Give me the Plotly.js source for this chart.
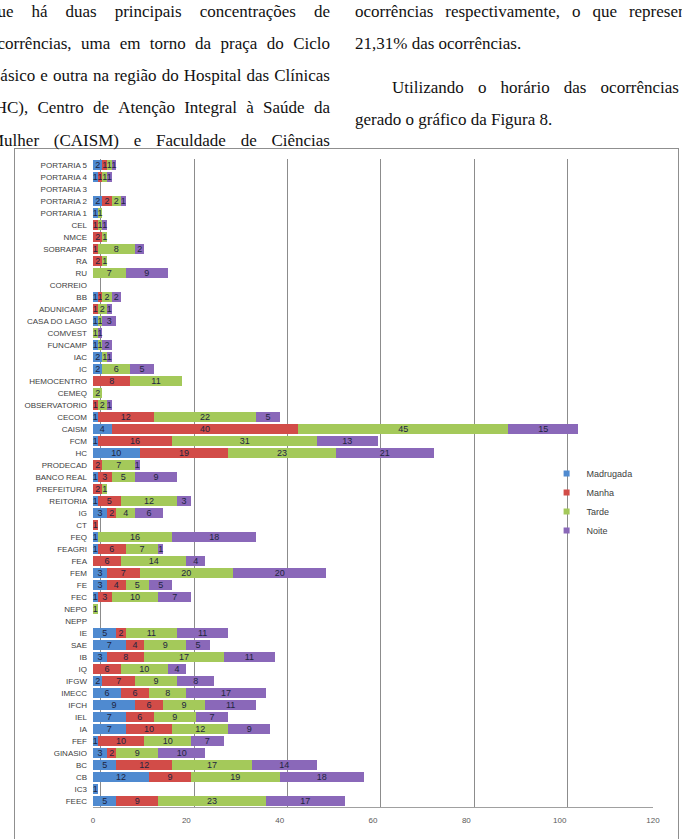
<!DOCTYPE html>
<html>
<head>
<meta charset="utf-8">
<script src="https://cdn.plot.ly/plotly-3.0.1.min.js"></script>
<style>
  html, body { margin:0; padding:0; background:#fff; }
  body { width:682px; height:839px; overflow:hidden; position:relative; font-family:"Liberation Serif","DejaVu Serif",serif; color:#111; }
  .ln { position:absolute; font-size:17px; line-height:20px; white-space:nowrap; }
  .just { display:flex; justify-content:space-between; }
  #frame { position:absolute; left:14px; top:148px; width:663px; height:720px; border:1px solid #8f8f8f; background:#fff; }
  #chart { position:absolute; left:0; top:0; width:682px; height:839px; }
</style>
</head>
<body>
<div id="frame"></div>
<div id="chart"></div>
<div id="text"></div>
<script>
// ---- page text ----
const leftLines = [
  "que há duas principais concentrações de",
  "ocorrências, uma em torno da praça do Ciclo",
  "Básico e outra na região do Hospital das Clínicas",
  "(HC), Centro de Atenção Integral à Saúde da",
  "Mulher (CAISM) e Faculdade de Ciências"
];
const leftTops = [2, 34, 66, 98, 131];
const rightLines = [
  {t:"ocorrências respectivamente, o que representam", top:2, left:355, width:357, just:true},
  {t:"21,31% das ocorrências.", top:34, left:355, just:false},
  {t:"Utilizando o horário das ocorrências foi", top:78, left:392, width:320, just:true},
  {t:"gerado o gráfico da Figura 8.", top:110, left:355, just:false}
];
const textHost = document.getElementById('text');
function addLine(str, left, top, width, just) {
  const d = document.createElement('div');
  d.className = 'ln' + (just ? ' just' : '');
  d.style.left = left + 'px';
  d.style.top = top + 'px';
  if (just) {
    d.style.width = width + 'px';
    str.split(' ').forEach(w => { const s = document.createElement('span'); s.textContent = w; d.appendChild(s); });
  } else {
    d.textContent = str;
  }
  textHost.appendChild(d);
}
leftLines.forEach((s, i) => addLine(s, -11, leftTops[i], 341, true));
rightLines.forEach(r => addLine(r.t, r.left, r.top, r.width, r.just));

// ---- chart data (top to bottom) ----
const categories = ["PORTARIA 5","PORTARIA 4","PORTARIA 3","PORTARIA 2","PORTARIA 1","CEL","NMCE","SOBRAPAR","RA","RU",
  "CORREIO","BB","ADUNICAMP","CASA DO LAGO","COMVEST","FUNCAMP","IAC","IC","HEMOCENTRO","CEMEQ",
  "OBSERVATORIO","CECOM","CAISM","FCM","HC","PRODECAD","BANCO REAL","PREFEITURA","REITORIA","IG",
  "CT","FEQ","FEAGRI","FEA","FEM","FE","FEC","NEPO","NEPP","IE",
  "SAE","IB","IQ","IFGW","IMECC","IFCH","IEL","IA","FEF","GINASIO",
  "BC","CB","IC3","FEEC"];
const madrugada = [2,1,0,2,1,0,0,0,0,0, 0,1,0,1,0,1,2,2,0,0, 0,1,4,1,10,0,1,0,1,3, 0,1,1,0,3,3,1,0,0,5, 7,3,0,2,6,9,7,7,1,3, 5,12,1,5];
const manha     = [1,1,0,2,0,1,2,1,2,0, 0,1,1,0,0,0,0,0,8,0, 1,12,40,16,19,2,3,2,5,2, 1,0,6,6,7,4,3,0,0,2, 4,8,6,7,6,6,6,10,10,2, 12,9,0,9];
const tarde     = [1,1,0,2,1,1,1,8,1,7, 0,2,2,1,1,1,1,6,11,2, 2,22,45,31,23,7,5,1,12,4, 0,16,7,14,20,5,10,1,0,11, 9,17,10,9,8,9,9,12,10,9, 17,19,0,23];
const noite     = [1,1,0,1,0,1,0,2,0,9, 0,2,1,3,1,2,1,5,0,0, 1,5,15,13,21,1,9,0,3,6, 0,18,1,4,20,5,7,0,0,11, 5,11,4,8,17,11,7,9,7,10, 14,18,0,17];
const seriesNames = ["Madrugada","Manha","Tarde","Noite"];
const seriesValues = [madrugada, manha, tarde, noite];
const seriesColors = ["#4f8ad0","#d24c48","#a4c95a","#8a68b9"];
const xTicks = [0,20,40,60,80,100,120];

const traces = [];
seriesValues.forEach((vals, i) => {
  traces.push({
    type:'bar', orientation:'h', name:seriesNames[i],
    y:categories, x:vals.map(v => v === 0 ? null : v),
    text:vals.map(v => v === 0 ? '' : String(v)),
    textposition:'inside', insidetextanchor:'middle', textangle:0, constraintext:'none',
    textfont:{family:'Liberation Sans, Arial, sans-serif', size:9, color:'#1e2540'},
    marker:{color:seriesColors[i], line:{width:0}},
    showlegend:false, hoverinfo:'skip', cliponaxis:false
  });
});
seriesNames.forEach((n, i) => {
  traces.push({
    type:'scatter', mode:'markers', name:n, x:[null], y:[null], xaxis:'x2',
    marker:{symbol:'square', size:6, color:seriesColors[i]}, showlegend:true, hoverinfo:'skip'
  });
});

const layout = {
  width:682, height:839,
  margin:{l:93, r:29, t:159, b:32, pad:0},
  paper_bgcolor:'rgba(0,0,0,0)', plot_bgcolor:'rgba(0,0,0,0)',
  barmode:'stack', bargap:0.2,
  showlegend:true,
  legend:{x:0.81, y:0.537, xanchor:'left', yanchor:'top', bgcolor:'rgba(0,0,0,0)', traceorder:'normal',
    font:{family:'Liberation Sans, Arial, sans-serif', size:9, color:'#404040'}, itemwidth:30},
  xaxis:{range:[0,120], tickvals:xTicks, ticktext:xTicks.map(String), showgrid:false, zeroline:false,
    showline:true, linecolor:'#a0a0a0', linewidth:1, ticks:'', ticklabelstandoff:5,
    tickfont:{family:'Liberation Sans, Arial, sans-serif', size:8, color:'#595959'}, fixedrange:true},
  xaxis2:{overlaying:'x', range:[-1.7,118.3], tickvals:[0,20,40,60,80,100], showticklabels:false, showgrid:true,
    gridcolor:'#8c8c8c', gridwidth:1, zeroline:false, showline:false, ticks:'', fixedrange:true},
  yaxis:{type:'category', categoryarray:categories, categoryorder:'array', autorange:'reversed',
    showgrid:false, zeroline:false, showline:false, ticks:'', ticklabelstandoff:5,
    tickfont:{family:'Liberation Sans, Arial, sans-serif', size:8, color:'#404040'}, fixedrange:true}
};
Plotly.newPlot('chart', traces, layout, {staticPlot:true, displayModeBar:false});
</script>
</body>
</html>
